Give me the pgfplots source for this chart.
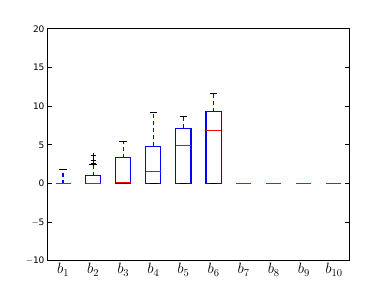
\documentclass[border=0pt]{standalone}
\usepackage{pgfplots}
\pgfplotsset{compat=1.18}
\usepackage{fontspec}
\setmainfont{DejaVu Sans}
\usepackage{fix-cm}
\definecolor{mplblue}{RGB}{0,0,255}
\definecolor{mplred}{RGB}{255,0,0}
\begin{document}
\begin{tikzpicture}[x=1pt,y=1pt]
\begin{axis}[
  scale only axis,
  width=301pt, height=232pt,
  xmin=0.5, xmax=10.5,
  ymin=-10, ymax=20,
  ytick={-10,-5,0,5,10,15,20},
  yticklabels={$-$10,$-$5,0,5,10,15,20},
  xtick={1,2,3,4,5,6,7,8,9,10},
  xticklabels={$b_{1}$,$b_{2}$,$b_{3}$,$b_{4}$,$b_{5}$,$b_{6}$,$b_{7}$,$b_{8}$,$b_{9}$,$b_{10}$},
  xticklabel style={font=\fontsize{15}{16}\selectfont, yshift=1pt},
  yticklabel style={font=\fontsize{9}{10}\selectfont},
  x tick style={draw=none},
  y tick style={black, line width=1pt},
  tick align=inside,
  major tick length=4pt,
  ytick pos=both,
  yticklabel pos=left,
  axis line style={black, line width=1pt},
  unbounded coords=jump,
]
% boxes (q1 = 0 for all)
\addplot[draw=mplblue, line width=1.1pt, solid, mark=none] coordinates {
(0.75,0) (1.25,0) (1.25,0) (0.75,0) (0.75,0) (nan,nan)
(1.75,0) (2.25,0) (2.25,1.0) (1.75,1.0) (1.75,0) (nan,nan)
(2.75,0) (3.25,0) (3.25,3.37) (2.75,3.37) (2.75,0) (nan,nan)
(3.75,0) (4.25,0) (4.25,4.83) (3.75,4.83) (3.75,0) (nan,nan)
(4.75,0) (5.25,0) (5.25,7.17) (4.75,7.17) (4.75,0) (nan,nan)
(5.75,0) (6.25,0) (6.25,9.28) (5.75,9.28) (5.75,0) (nan,nan)
(6.75,0) (7.25,0) (nan,nan)
(7.75,0) (8.25,0) (nan,nan)
(8.75,0) (9.25,0) (nan,nan)
(9.75,0) (10.25,0) (nan,nan)
};
% upper whiskers
\addplot[draw=mplblue, line width=1.1pt, dash pattern=on 4pt off 3pt, mark=none] coordinates {
(1,0) (1,1.86) (nan,nan)
(2,1.0) (2,2.5) (nan,nan)
(3,3.37) (3,5.44) (nan,nan)
(4,4.83) (4,9.24) (nan,nan)
(5,7.17) (5,8.72) (nan,nan)
(6,9.28) (6,11.65) (nan,nan)
};
% caps
\addplot[draw=black, line width=1.1pt, solid, mark=none] coordinates {
(0.875,1.86) (1.125,1.86) (nan,nan)
(1.875,2.5) (2.125,2.5) (nan,nan)
(2.875,5.44) (3.125,5.44) (nan,nan)
(3.875,9.24) (4.125,9.24) (nan,nan)
(4.875,8.72) (5.125,8.72) (nan,nan)
(5.875,11.65) (6.125,11.65) (nan,nan)
(0.875,0) (1.125,0) (nan,nan)
(1.875,0) (2.125,0) (nan,nan)
(2.875,0) (3.125,0) (nan,nan)
(3.875,0) (4.125,0) (nan,nan)
(4.875,0) (5.125,0) (nan,nan)
(5.875,0) (6.125,0) (nan,nan)
(6.875,0) (7.125,0) (nan,nan)
(7.875,0) (8.125,0) (nan,nan)
(8.875,0) (9.125,0) (nan,nan)
(9.875,0) (10.125,0) (nan,nan)
};
% medians
\addplot[draw=mplred, line width=1.1pt, solid, mark=none] coordinates {
(0.75,0) (1.25,0) (nan,nan)
(1.75,0) (2.25,0) (nan,nan)
(2.75,0.18) (3.25,0.18) (nan,nan)
(3.75,1.55) (4.25,1.55) (nan,nan)
(4.75,4.97) (5.25,4.97) (nan,nan)
(5.75,6.82) (6.25,6.82) (nan,nan)
(6.75,0) (7.25,0) (nan,nan)
(7.75,0) (8.25,0) (nan,nan)
(8.75,0) (9.25,0) (nan,nan)
(9.75,0) (10.25,0) (nan,nan)
};
% fliers
\addplot[only marks, mark=+, mark size=2.5pt, draw=black, line width=1pt] coordinates {(2,2.6) (2,3.0) (2,3.7)};
\end{axis}
\path (current axis.south west) ++(-48pt,-30pt);
\path (current axis.north east) ++(39pt,29pt);
\end{tikzpicture}
\end{document}
